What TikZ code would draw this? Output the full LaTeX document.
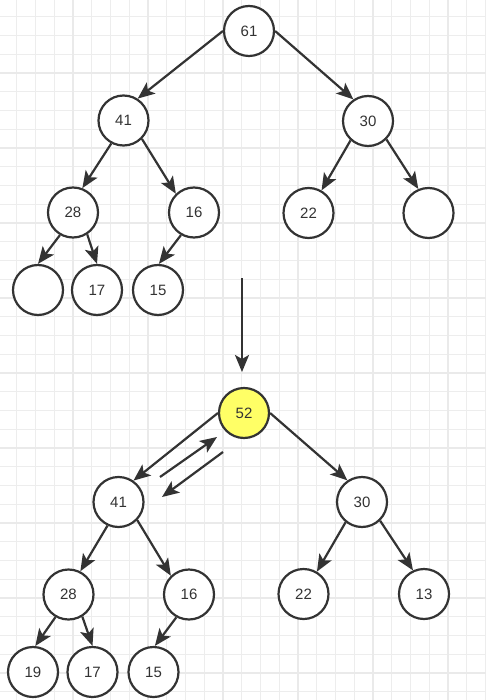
\documentclass[tikz,border=0pt]{standalone}
\usepackage{fontspec}
\setmainfont{Liberation Sans}
\usepackage{xcolor}
\usetikzlibrary{arrows.meta}
\definecolor{ink}{HTML}{333333}
\definecolor{gridminor}{HTML}{EDEDED}
\definecolor{gridmajor}{HTML}{EAEAEA}
\definecolor{hot}{HTML}{FFFF66}

\begin{document}
\begin{tikzpicture}[
    x=1pt, y=-1pt,
    key/.style={circle, draw=ink, line width=2.2pt, fill=white, minimum size=50pt, inner sep=0pt, font=\fontsize{15}{17}\selectfont, text=ink},
    hotkey/.style={key, fill=hot},
    arrow/.style={-{Stealth[length=17pt, width=14pt, inset=4pt]}, line width=2.2pt, draw=ink},
    minor/.style={gridminor, line width=1pt},
    major/.style={gridmajor, line width=1.4pt}
]
\useasboundingbox (0,0) rectangle (486,700);
\fill[white] (0,0) rectangle (486,700);

% Background grid
\foreach \k in {1,...,26} \draw[minor] (-2+18.75*\k,0) -- (-2+18.75*\k,700);
\foreach \k in {1,...,37} \draw[minor] (0,-2+18.75*\k) -- (486,-2+18.75*\k);
\foreach \k in {4,8,...,24} \draw[major] (-2+18.75*\k,0) -- (-2+18.75*\k,700);
\foreach \k in {4,8,...,36} \draw[major] (0,-2+18.75*\k) -- (486,-2+18.75*\k);

% Heap before: root 61
\node[key] (a61) at (249,31)    {61};
\node[key] (a41) at (123.5,120.5) {41};
\node[key] (a30) at (368,121)   {30};
\node[key] (a28) at (73,212.5)  {28};
\node[key] (a16) at (194,212.5) {16};
\node[key] (a22) at (308.5,213) {22};
\node[key] (aR)  at (428.5,213) {};
\node[key] (aL)  at (38,290)    {};
\node[key] (a17) at (97,290)    {17};
\node[key] (a15) at (158,290)   {15};

\draw[arrow] (a61.180) -- (a41.57);
\draw[arrow] (a61.0)   -- (a30.124);
\draw[arrow] (a41.242) -- (a28.69);
\draw[arrow] (a41.315) -- (a16.134);
\draw[arrow] (a30.228) -- (a22.60);
\draw[arrow] (a30.315) -- (aR.113);
\draw[arrow] (a28.240) -- (aL.90);
\draw[arrow] (a28.303) -- (a17.90);
\draw[arrow] (a16.240) -- (a15.88);

% Step between the two heaps
\coordinate (stepTop) at (242,278);
\coordinate (stepBot) at (242,372);
\draw[arrow] (stepTop) -- (stepBot);

% Heap after: root 52
\node[hotkey] (b52) at (244,413) {52};
\node[key] (b41) at (118.5,502) {41};
\node[key] (b30) at (362,502)   {30};
\node[key] (b28) at (68.5,594.5) {28};
\node[key] (b16) at (189,594.5) {16};
\node[key] (b22) at (303.5,594) {22};
\node[key] (b13) at (424,594)   {13};
\node[key] (b19) at (33,672)    {19};
\node[key] (b17) at (92.5,672)  {17};
\node[key] (b15) at (153.5,672) {15};

\draw[arrow] (b52.180) -- (b41.55);
\draw[arrow] (b52.0)   -- (b30.124);
\draw[arrow] (b41.245) -- (b28.63);
\draw[arrow] (b41.316) -- (b16.134);
\draw[arrow] (b30.231) -- (b22.59);
\draw[arrow] (b30.314) -- (b13.115);
\draw[arrow] (b28.240) -- (b19.85);
\draw[arrow] (b28.302) -- (b17.90);
\draw[arrow] (b16.241) -- (b15.87);

% Swap of 52 and 41
\coordinate (upFrom)   at (160,477);
\coordinate (upTo)     at (217,437);
\coordinate (downFrom) at (223,452);
\coordinate (downTo)   at (162,497);
\draw[arrow] (upFrom)   -- (upTo);
\draw[arrow] (downFrom) -- (downTo);

\end{tikzpicture}
\end{document}
